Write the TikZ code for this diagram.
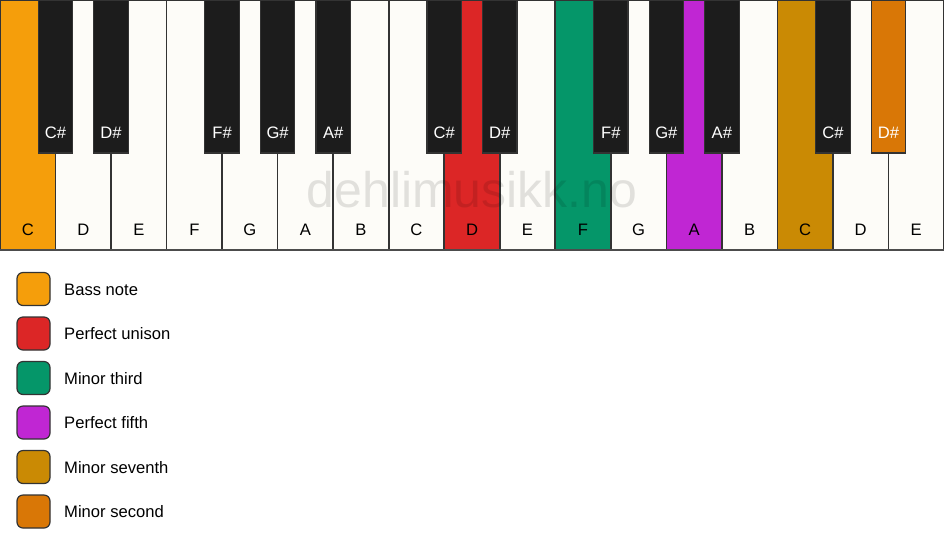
\documentclass[tikz,border=0pt]{standalone}
\usepackage{fontspec}
\setmainfont{Liberation Sans}
\definecolor{keywhite}{HTML}{FDFCF8}
\definecolor{keyblack}{HTML}{1C1C1C}
\definecolor{keyline}{HTML}{333333}
\definecolor{bass}{HTML}{F59E0B}
\definecolor{unison}{HTML}{DC2626}
\definecolor{mthird}{HTML}{059669}
\definecolor{pfifth}{HTML}{C026D3}
\definecolor{mseventh}{HTML}{CA8A04}
\definecolor{msecond}{HTML}{D97706}
\tikzset{
  whitekey/.style={draw=keyline, line width=1.6pt, inner sep=0pt, outer sep=0pt,
    minimum width=55.529pt, minimum height=250pt, anchor=north west},
  blackkey/.style={draw=keyline, line width=1.2pt, inner sep=0pt, outer sep=0pt,
    minimum width=34.5pt, minimum height=153pt, anchor=north},
  wlabel/.style={font=\fontsize{16.6}{19}\selectfont, text=black, anchor=base, inner sep=0pt},
  blabel/.style={font=\fontsize{16.6}{19}\selectfont, text=white, anchor=base, inner sep=0pt},
  legbox/.style={draw=keyline, line width=1.2pt, rounded corners=6pt, inner sep=0pt,
    minimum width=33pt, minimum height=33pt},
  legtext/.style={font=\fontsize{16.6}{19}\selectfont, anchor=west, inner sep=0pt},
}
\begin{document}
\begin{tikzpicture}[x=1pt,y=-1pt]
\useasboundingbox[fill=white] (0,0) rectangle (944,550);
\def\W{55.529}
% white keys
\foreach \i/\n/\col in {0/C/bass,1/D/keywhite,2/E/keywhite,3/F/keywhite,4/G/keywhite,5/A/keywhite,6/B/keywhite,7/C/keywhite,8/D/unison,9/E/keywhite,10/F/mthird,11/G/keywhite,12/A/pfifth,13/B/keywhite,14/C/mseventh,15/D/keywhite,16/E/keywhite}{
  \node[whitekey, fill=\col] (w\i) at ({\i*\W},0) {};
  \node[wlabel] (wl\i) at ({(\i+0.5)*\W},235.5) {\n};
}
% bottom edge
\coordinate (bl) at (0,250);
\coordinate (br) at (944,250);
\draw[line width=2.2pt, draw=black!70] (bl) -- (br);
% watermark
\node[font=\fontsize{50}{60}\selectfont, text=black, text opacity=0.11, anchor=base, inner sep=0pt] (wm) at (472,207) {dehlimusikk.no};
% black keys
\foreach \k/\n/\col in {1/C/keyblack,2/D/keyblack,4/F/keyblack,5/G/keyblack,6/A/keyblack,8/C/keyblack,9/D/keyblack,11/F/keyblack,12/G/keyblack,13/A/keyblack,15/C/keyblack,16/D/msecond}{
  \node[blackkey, fill=\col] (b\k) at ({\k*\W},0) {};
  \node[blabel] (bl\k) at ({\k*\W},138.5) {\n\#};
}
% legend
\foreach \j/\col/\t in {0/bass/Bass note,1/unison/Perfect unison,2/mthird/Minor third,3/pfifth/Perfect fifth,4/mseventh/Minor seventh,5/msecond/Minor second}{
  \node[legbox, fill=\col] (lb\j) at (33.5,{289+44.5*\j}) {};
  \node[legtext] (lt\j) at (64,{289.5+44.5*\j}) {\t};
}
\end{tikzpicture}
\end{document}
